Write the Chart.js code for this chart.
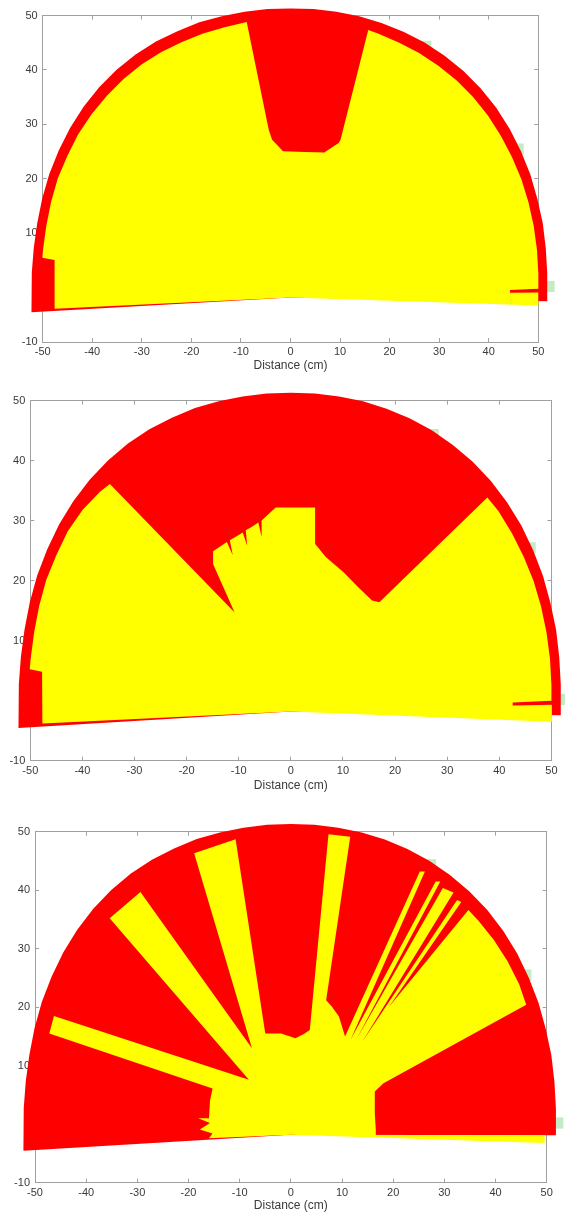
<!DOCTYPE html>
<html><head><meta charset="utf-8">
<script src="https://cdn.jsdelivr.net/npm/chart.js@4.4.1/dist/chart.umd.min.js"></script>
<style>
html,body{margin:0;padding:0;background:#fff;width:565px;height:1213px;overflow:hidden}
canvas{position:absolute;left:0}
</style></head><body>
<canvas id="c1"></canvas>
<canvas id="c2"></canvas>
<canvas id="c3"></canvas>
<script>
// ---------------- data (cm / degrees) ----------------
const xTitle = 'Distance (cm)';
const xMin = -50, xMax = 50, xStep = 10;
const yMin = -10, yMax = 50, yStep = 10;
const sensorY = -1.8;                       // sensor position on the y axis (cm)

// maximum range boundary (red area)
const outerAngles = [0,5,10,15,20,25,30,35,40,45,50,55,60,65,70,75,80,85,90,95,100,105,110,115,120,125,130,135,140,145,150,155,160,165,170,175,180,183];
const outerRanges = [51.8,52.0,52.3,52.7,53.0,53.4,53.7,54.0,54.2,54.3,54.3,54.2,54.1,53.9,53.7,53.5,53.3,53.2,53.1,53.2,53.3,53.5,53.8,54.0,54.3,54.5,54.6,54.6,54.5,54.3,54.0,53.7,53.3,52.9,52.6,52.4,52.3,52.3];
const fanStartAngles = [-0.8, -0.7, -0.1];

// hidden angle labels (green boxes)
const labelAngles = [2.2, 30.7, 59.4];
const labelRanges = [52.2, 53.4, 53.6];

// measured free distance per sweep angle (yellow area)
const p1Angles = [-1.7,1.05,1.1,1.75,1.8,5,10,15,20,25,30,35,40,45,50,55,60,65,70,72.3,70.8,71.1,75.7,83.6,93.2,97.3,98.1,99.9,105,110,115,120,125,130,135,140,145,150,155,160,165,170,171.7,171.8,176,180,182.5];
const p1Ranges = [50.0,50.0,44.3,44.3,50.0,50.2,50.5,50.8,51.1,51.4,51.6,51.8,52.0,52.1,52.1,52.0,51.9,51.7,51.6,51.6,30.7,30.0,27.5,26.9,26.9,29.2,31.1,51.4,51.4,51.6,51.8,52.1,52.3,52.4,52.4,52.4,52.3,52.0,51.8,51.4,51.0,50.7,50.6,48.1,47.7,47.6,47.65];

const p2Angles = [-1.95,1.3,1.35,2.0,2.05,5,10,15,20,25,30,35,40,43.4,47.0,49.9,58,66.3,75.4,80.5,82.2,94.9,100.0,100.9,101.2,104.1,106.0,106.9,107.2,112.3,113.2,113.5,119.2,121.3,123.2,132.5,135,140,145,150,155,160,165,170,172.0,172.1,176,180,182.4];
const p2Ranges = [50.0,50.1,42.6,42.6,50.1,50.2,50.5,50.8,51.1,51.4,51.6,51.8,52.0,51.9,24.9,24.2,24.4,25.3,26.6,28.3,34.3,34.1,32.3,29.6,32.1,31.6,31.4,28.8,31.2,30.85,28.3,30.8,30.6,28.7,19.7,51.4,51.8,52.2,52.3,52.0,51.8,51.4,51.0,50.7,50.6,48.2,47.8,47.7,47.7];

const p3Angles = [-1.62,-0.15,-0.17,2.76,13.0,24.3,25.9,25.77,30,35,40,45,47.9,48.76,50.08,51.0,48.66,52.47,54.86,51.86,56.0,56.83,54.33,59.79,60.75,57.75,65.05,69.94,73.3,77.17,81.85,78.32,81.13,86.88,96.27,106.12,102.07,111.45,117.18,125.31,133.74,131.1,156.33,159.87,152.69,159.84,170.07,171.2,172.79,177.11,179.25,182.15];
const p3Ranges = [49.62,49.6,16.6,16.62,16.83,18.0,20.13,51.08,51.5,51.7,51.8,51.8,51.75,29.12,51.89,51.62,21.04,52.2,51.6,20.72,52.23,51.73,20.06,52.07,51.58,19.86,22.28,23.32,24.01,52.25,51.87,18.28,17.51,16.52,17.4,18.01,51.64,51.68,16.64,50.86,51.21,12.47,50.55,50.27,17.22,16.83,16.24,18.32,15.93,17.82,15.30,16.01];

const panelData = [
  {angles: p1Angles, ranges: p1Ranges},
  {angles: p2Angles, ranges: p2Ranges},
  {angles: p3Angles, ranges: p3Ranges}
];

// ---------------- layout / style ----------------
const layout = [
  {id:'c1', top:0,   height:373, leftW:42.7, rightW:26.7, topH:15,   bottomH:31},
  {id:'c2', top:385, height:408, leftW:30.3, rightW:10,   topH:14.3, bottomH:32.3},
  {id:'c3', top:800, height:413, leftW:35,   rightW:18.3, topH:31.7, bottomH:30.3}
];
const FONT = "'Liberation Sans', Arial, Helvetica, sans-serif";
const AXIS = '#a0a0a0';
const TEXT = '#3a3a3a';
const RED = '#ff0000', YELLOW = '#ffff00', GREEN = '#c4ebc4';
Chart.defaults.font.family = FONT;

function polarPoints(angles, ranges, closeAtSensor) {
  const pts = [];
  if (closeAtSensor) pts.push({x: 0, y: sensorY});
  for (let i = 0; i < angles.length; i++) {
    const a = angles[i] * Math.PI / 180;
    pts.push({x: ranges[i] * Math.cos(a), y: sensorY + ranges[i] * Math.sin(a)});
  }
  if (closeAtSensor) pts.push({x: 0, y: sensorY});
  return pts;
}

// draw data over the whole canvas (no clipping to the axes box)
const noClip = {
  id: 'noClip',
  beforeDraw(c) {
    c.$area = c.chartArea;
    c.chartArea = {left: 0, top: 0, right: c.width, bottom: c.height, width: c.width, height: c.height};
  },
  afterDraw(c) { if (c.$area) c.chartArea = c.$area; }
};

function axis(pos, min, max, step, size, labels, extra) {
  const horiz = pos === 'top' || pos === 'bottom';
  const o = {
    type: 'linear', position: pos, min, max,
    border: {display: true, color: AXIS, width: 1},
    grid: {display: true, drawOnChartArea: false, drawTicks: true, tickLength: -4, color: AXIS, lineWidth: 1},
    ticks: {stepSize: step, display: labels, color: TEXT, font: {size: 11}, padding: horiz ? 7.5 : 9, maxRotation: 0, autoSkip: false},
    afterFit(s) { if (horiz) s.height = size; else s.width = size; }
  };
  return Object.assign(o, extra || {});
}

layout.forEach((L, i) => {
  const cv = document.getElementById(L.id);
  cv.width = 565; cv.height = L.height;
  cv.style.top = L.top + 'px'; cv.style.width = '565px'; cv.style.height = L.height + 'px';
  const d = panelData[i];
  const redAngles = [fanStartAngles[i]].concat(outerAngles);
  const redRanges = [outerRanges[0]].concat(outerRanges);
  new Chart(cv.getContext('2d'), {
    type: 'scatter',
    data: {
      datasets: [
        {label: 'free', data: polarPoints(d.angles, d.ranges, true), showLine: true, fill: 'shape',
         backgroundColor: YELLOW, borderColor: 'rgba(0,0,0,0)', borderWidth: 0, pointRadius: 0, tension: 0, clip: false, order: 0},
        {label: 'range', data: polarPoints(redAngles, redRanges, true), showLine: true, fill: 'shape',
         backgroundColor: RED, borderColor: 'rgba(0,0,0,0)', borderWidth: 0, pointRadius: 0, tension: 0, clip: false, order: 1},
        {label: 'labels', data: polarPoints(labelAngles, labelRanges, false), showLine: false,
         pointStyle: 'rect', pointRadius: 8, backgroundColor: GREEN, borderWidth: 0, clip: false, order: 2}
      ]
    },
    options: {
      responsive: false, animation: false, events: [],
      layout: {padding: 0},
      plugins: {legend: {display: false}, tooltip: {enabled: false}, filler: {drawTime: 'beforeDatasetDraw'}},
      scales: {
        x: axis('bottom', xMin, xMax, xStep, L.bottomH, true, {
          title: {display: true, text: xTitle, color: TEXT, font: {size: 12}, padding: {top: 0, bottom: 0}}
        }),
        y: axis('left', yMin, yMax, yStep, L.leftW, true),
        x2: axis('top', xMin, xMax, xStep, L.topH, false),
        y2: axis('right', yMin, yMax, yStep, L.rightW, false)
      }
    },
    plugins: [noClip]
  });
});
</script>
</body></html>
